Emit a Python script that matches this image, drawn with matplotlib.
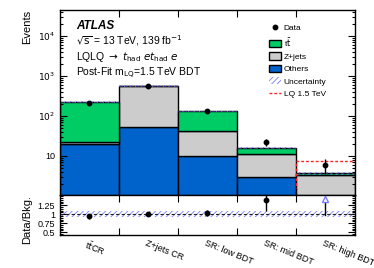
import matplotlib
matplotlib.use("Agg")
import matplotlib.pyplot as plt
import numpy as np
from matplotlib.patches import Patch
from matplotlib.lines import Line2D
from matplotlib.ticker import FixedLocator, FuncFormatter, LogLocator, MultipleLocator
import matplotlib.transforms as mtrans

plt.rcParams['font.family'] = ['Liberation Sans', 'DejaVu Sans']
plt.rcParams['hatch.linewidth'] = 0.6

categories = ["t$\\bar{\\mathrm{t}}$CR", "Z+jets CR", "SR: low BDT", "SR: mid BDT", "SR: high BDT"]
others = [20, 54, 10, 3.0, 0.5]
zjets = [3, 500, 32, 8.2, 2.8]
ttbar = [205, 6, 88, 4.6, 0.4]
data = [215, 555, 135, 22, 6]
data_err = [14.7, 23.6, 11.6, 4.7, 2.4]
signal = [0.05, 0.02, 0.3, 0.8, 7.5]
unc_rel = [0.05, 0.04, 0.05, 0.08, 0.1]
ratio_unc = [0.09, 0.09, 0.09, 0.09, 0.09]

c_tt = "#00cc66"
c_z = "#cccccc"
c_oth = "#0063cc"
c_unc = "#7b7bff"

fig = plt.figure(figsize=(3.74, 2.68), dpi=100)
ax = fig.add_axes([0.160, 0.272, 0.789, 0.691])
rx = fig.add_axes([0.160, 0.123, 0.789, 0.149], sharex=ax)

n = len(categories)
x = np.arange(n)
centers = x + 0.5
others_a = np.array(others)
zj_a = np.array(zjets)
tt_a = np.array(ttbar)
total = others_a + zj_a + tt_a

bottom0 = 1e-3
ax.bar(x, others_a - bottom0, bottom=bottom0, width=1, align='edge', color=c_oth, edgecolor='black', linewidth=1.0)
ax.bar(x, zj_a, bottom=others_a, width=1, align='edge', color=c_z, edgecolor='black', linewidth=1.0)
ax.bar(x, tt_a, bottom=others_a + zj_a, width=1, align='edge', color=c_tt, edgecolor='black', linewidth=1.0)

# uncertainty band
unc = total * np.array(unc_rel)
ax.bar(x, 2 * unc, bottom=total - unc, width=1, align='edge', fill=False, hatch='//////',
       edgecolor=c_unc, linewidth=0)
for i in range(n):
    ax.plot([x[i], x[i] + 1], [total[i], total[i]], color='#303060', lw=0.8, ls=(0, (3, 2)))

# signal
edges = np.arange(n + 1)
sig = np.array(signal)
ax.stairs(sig, edges, color='#ff2020', lw=1.0, ls=(0, (2, 1.5)), baseline=None)

# data
ax.errorbar(centers, data, yerr=data_err, fmt='o', color='black', ms=3.2, lw=1.0, capsize=0)

ax.set_yscale('log')
ax.set_ylim(1.05, 4.5e4)
ax.set_xlim(0, n)

def yfmt(v, pos):
    if v <= 0:
        return ""
    e = int(round(np.log10(v)))
    if abs(v - 10 ** e) > 1e-6 * v:
        return ""
    if e == 1:
        return "10"
    if e < 1:
        return ""
    return "$10^{%d}$" % e

ax.yaxis.set_major_locator(FixedLocator([10, 100, 1000, 10000]))
ax.yaxis.set_major_formatter(FuncFormatter(yfmt))
ax.yaxis.set_minor_locator(LogLocator(base=10, subs=np.arange(2, 10)))
ax.yaxis.set_minor_formatter(FuncFormatter(lambda v, p: ""))
ax.set_ylabel("Events", fontsize=8, loc='top')
ax.xaxis.set_major_locator(FixedLocator([1, 2, 3, 4]))
ax.tick_params(axis='x', labelbottom=False)
for a in (ax, rx):
    a.tick_params(which='both', direction='in', top=True, right=True, labelsize=6.5, width=0.8)
    a.tick_params(which='major', length=5)
    a.tick_params(which='minor', length=2.5)
    for s in a.spines.values():
        s.set_linewidth(1.0)

# text
ax.text(0.055, 0.912, "ATLAS", transform=ax.transAxes, fontsize=8.5, fontweight='bold', style='italic', va='center')
ax.text(0.055, 0.835, "$\\sqrt{\\mathrm{s}}$ = 13 TeV, 139 fb$^{-1}$", transform=ax.transAxes, fontsize=7.5, va='center')
ax.text(0.055, 0.745, "LQLQ $\\rightarrow$ $t_{\\mathrm{had}}$ $e t_{\\mathrm{had}}$ $e$", transform=ax.transAxes, fontsize=7.5, va='center')
ax.text(0.055, 0.655, "Post-Fit m$_{\\mathrm{LQ}}$=1.5 TeV BDT", transform=ax.transAxes, fontsize=7.5, va='center')

handles = [
    Line2D([], [], marker='o', color='black', ls='none', ms=3.2),
    Patch(facecolor=c_tt, edgecolor='black', lw=1.0),
    Patch(facecolor=c_z, edgecolor='black', lw=1.0),
    Patch(facecolor=c_oth, edgecolor='black', lw=1.0),
    Patch(facecolor='none', edgecolor=c_unc, hatch='//////', lw=0),
    Line2D([], [], color='#ff2020', lw=1.0, ls=(0, (2, 1.5))),
]
labels = ["Data", "t$\\bar{\\mathrm{t}}$", "Z+jets", "Others", "Uncertainty", "LQ 1.5 TeV"]
leg = ax.legend(handles, labels, loc='upper left', bbox_to_anchor=(0.697, 0.945), frameon=False,
                fontsize=6, handlelength=1.5, handleheight=1.0, handletextpad=0.3, labelspacing=0.45,
                borderaxespad=0)

# ratio
ratio = np.array(data) / total
rerr = np.array(data_err) / total
rlo, rhi = 0.42, 1.53
rx.bar(x, 2 * np.array(ratio_unc), bottom=1 - np.array(ratio_unc), width=1, align='edge', fill=False,
       hatch='//////', edgecolor=c_unc, linewidth=0)
rx.axhline(1, color='#202020', lw=0.8, ls=(0, (3, 2)))
inr = ratio < rhi
rx.errorbar(centers[inr], ratio[inr], yerr=rerr[inr], fmt='o', color='black', ms=3.2, lw=1.0, capsize=0)
for i in np.where(~inr)[0]:
    rx.plot([centers[i], centers[i]], [max(ratio[i] - rerr[i], rlo), 1.42], color='black', lw=1.0)
    rx.plot([centers[i]], [1.42], marker='^', mfc='white', mec=c_unc, ms=4.5, mew=1.0, ls='none')
rx.set_ylim(rlo, rhi)
rx.yaxis.set_major_locator(FixedLocator([0.5, 0.75, 1.0, 1.25]))
rx.yaxis.set_major_formatter(FuncFormatter(lambda v, p: "1" if abs(v - 1) < 1e-9 else ("%g" % v)))
rx.yaxis.set_minor_locator(MultipleLocator(0.05))
rx.set_ylabel("Data/Bkg.", fontsize=8, loc='top')
rx.tick_params(axis='x', labelbottom=False)
ax.yaxis.set_label_coords(-0.095, 1.0)
rx.yaxis.set_label_coords(-0.095, 1.0)

tr = mtrans.blended_transform_factory(rx.transData, rx.transAxes)
for c, lab in zip(centers, categories):
    rx.text(c - 0.02, -0.08, lab, transform=tr, rotation=-22, rotation_mode='anchor',
            ha='left', va='top', fontsize=6.5)

fig.savefig("out.png", dpi=100)
